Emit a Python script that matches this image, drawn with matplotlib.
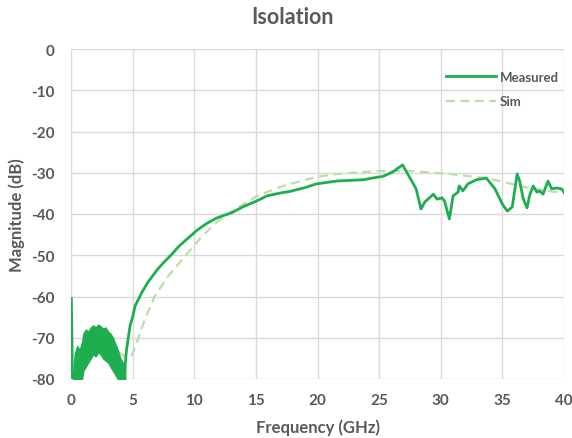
import matplotlib
matplotlib.use("Agg")
import matplotlib.pyplot as plt

# Low-frequency noisy band of the measured curve (envelope)
lf_freq  = [0.15, 0.3, 0.5, 0.7, 0.9, 1.0, 1.2, 1.4, 1.6, 1.8, 2.0, 2.2, 2.4, 2.6, 2.8, 3.0, 3.2, 3.4, 3.6, 3.8, 4.0, 4.2, 4.4]
lf_upper = [-80, -74, -72, -73, -71, -69, -68, -68.5, -67.5, -67, -67.5, -66.8, -67.2, -67.8, -67.5, -68.5, -69, -70, -71.5, -73, -75, -76, -77]
lf_lower = [-80, -80, -80, -80, -80, -78, -77, -76, -75, -74, -74.5, -73.5, -74, -75, -75.5, -76, -77, -78, -79, -80, -80, -80, -80]

# Measured: initial spike at 0 GHz
spike_freq = [0.03, 0.12]
spike_db = [-60.5, -80]

# Measured curve (above ~4.3 GHz)
meas_freq = [4.3, 4.5, 4.8, 5.0, 5.2, 5.5, 5.75, 6.25, 7.05, 7.6, 8.2, 8.7, 9.25, 10.2, 11.0, 11.8,
             13.1, 14.0, 15.1, 15.9, 17.0, 17.8, 19.0, 19.9, 21.6, 23.7, 24.8, 25.3, 26.1, 26.9, 27.7, 28.0,
             28.4, 28.7, 29.4, 29.7, 30.1, 30.3, 30.7, 31.0, 31.4, 31.5, 31.8, 32.2, 32.9, 33.7, 34.4, 35.0,
             35.4, 35.8, 36.2, 36.4, 36.7, 37.0, 37.2, 37.5, 37.8, 38.0, 38.3, 38.7, 39.0, 39.4, 39.8, 40.0]
meas_db = [-80, -73, -67, -65, -62.3, -60.5, -59, -56.5, -53.3, -51.5, -49.7, -48, -46.5, -44, -42.3, -41,
           -39.6, -38.2, -36.8, -35.6, -34.9, -34.5, -33.6, -32.7, -32, -31.7, -31.1, -30.9, -29.8, -28.1, -32.3, -33.9,
           -38.8, -37.1, -35.2, -36.4, -36.1, -36.8, -41.2, -35.6, -34.7, -33.2, -34.4, -32.7, -31.7, -31.3, -33.9, -37.6,
           -39.3, -38.3, -30.3, -32, -36.4, -38.5, -35.6, -33.2, -34.7, -34.4, -35.2, -32, -33.9, -33.7, -33.9, -34.7]

# Simulated curve
sim_freq = [0.5, 0.7, 1.15, 1.8, 2.6, 3.4, 4.1, 4.6, 4.9, 5.35, 6.0, 6.8, 7.9, 9.25, 10.6, 11.8, 13.1, 15.1, 17.2,
            19.9, 21.6, 23.7, 25.1, 27.7, 30.4, 33.7, 37.2, 40.0]
sim_db = [-83, -80, -76.8, -73.2, -72, -72.3, -74, -74.7, -74.5, -71, -65.5, -59.9, -55, -50.2, -45.5, -42, -39.3,
          -35.6, -33.2, -31, -30.3, -29.8, -29.6, -29.6, -30.2, -31.3, -33.7, -35]

x_ticks = [0, 5, 10, 15, 20, 25, 30, 35, 40]
y_ticks = [0, -10, -20, -30, -40, -50, -60, -70, -80]

plt.rcParams['font.family'] = ['Lato', 'DejaVu Sans']
plt.rcParams['axes.unicode_minus'] = False
gray = '#595959'
green = '#1FAE4F'
light = '#B8DFA5'

fig = plt.figure(figsize=(5.72, 4.39), dpi=100)
ax = fig.add_axes([71/572, 1-380/439, (564-71)/572, (380-50)/439])

ax.plot(sim_freq, sim_db, color=light, lw=1.6, ls=(0, (4, 2.5)), label='Sim', zorder=3)
ax.fill_between(lf_freq, lf_lower, lf_upper, facecolor=green, linewidth=1.0, edgecolor=green, zorder=4)
ax.plot(spike_freq, spike_db, color=green, lw=2.0, zorder=4)
ax.plot(meas_freq, meas_db, color=green, lw=2.0, label='Measured', zorder=4, solid_joinstyle='round')

ax.set_xlim(0, 40)
ax.set_ylim(-80, 0)
ax.set_xticks(x_ticks)
ax.set_yticks(y_ticks)
ax.grid(True, color='#D9D9D9', lw=1.0)
ax.set_axisbelow(True)
for s in ax.spines.values():
    s.set_visible(False)
ax.tick_params(axis='y', length=0, labelsize=11, colors=gray, pad=12)
ax.tick_params(axis='x', length=0, labelsize=11, colors=gray, pad=10)
for lab in ax.get_xticklabels() + ax.get_yticklabels():
    lab.set_fontweight('bold')

ax.set_xlabel('Frequency (GHz)', fontsize=12, fontweight='bold', color=gray, labelpad=8)
ax.set_ylabel('Magnitude (dB)', fontsize=12, fontweight='bold', color=gray, labelpad=4)
fig.text(293/572, 1-18/439, 'Isolation', ha='center', va='center', fontsize=15.5, fontweight='bold', color=gray)

handles, labels = ax.get_legend_handles_labels()
order = [labels.index('Measured'), labels.index('Sim')]
leg = ax.legend([handles[i] for i in order], [labels[i] for i in order],
                loc='upper right', bbox_to_anchor=(1.0, 0.95), frameon=False, fontsize=9.5,
                handlelength=3.8, labelspacing=0.95, handletextpad=0.25, borderaxespad=0.0)
for t in leg.get_texts():
    t.set_color(gray)
    t.set_fontweight('bold')

fig.savefig('out.png', dpi=100)
